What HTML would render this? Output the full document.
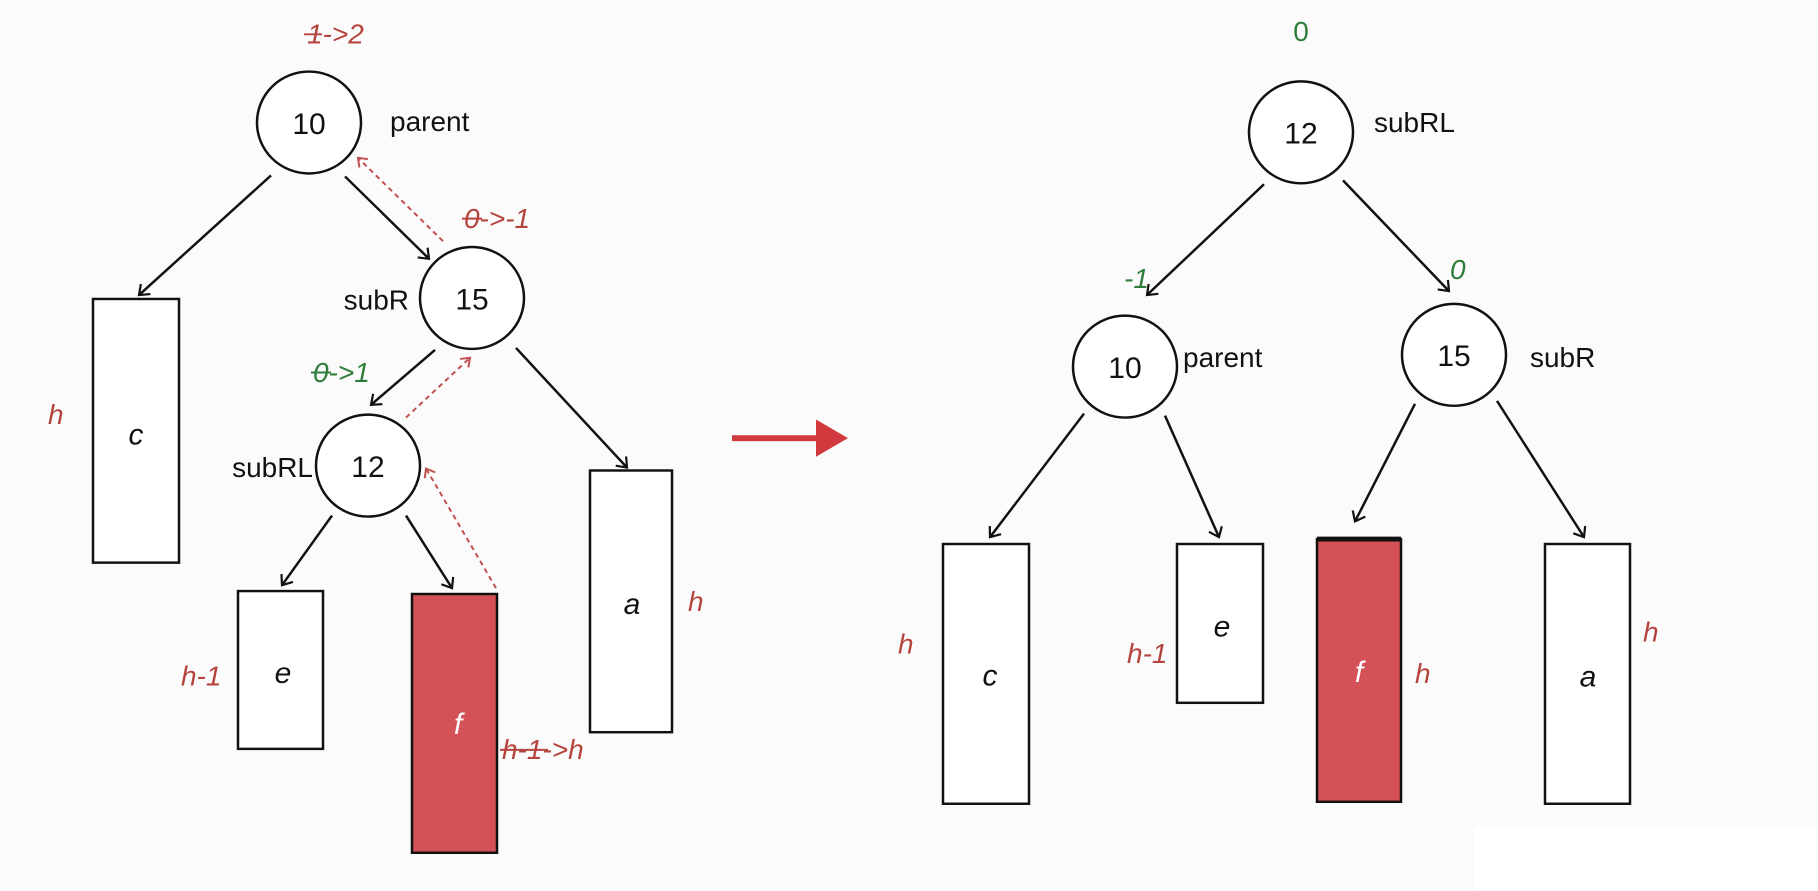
<!DOCTYPE html>
<html><head><meta charset="utf-8"><style>
html,body{margin:0;padding:0;background:#fbfbfb;}
svg{display:block}
text{font-family:"Liberation Sans","DejaVu Sans",sans-serif;}
</style></head><body>
<svg width="1818" height="891" viewBox="0 0 1818 909" preserveAspectRatio="none" xmlns="http://www.w3.org/2000/svg">
<defs>
<marker id="ab" markerWidth="16" markerHeight="16" refX="10" refY="8" orient="auto" markerUnits="userSpaceOnUse">
<path d="M1,1 L10,8 L1,15" fill="none" stroke="#111" stroke-width="2.2"/></marker>
<marker id="ar" markerWidth="14" markerHeight="14" refX="9" refY="7" orient="auto" markerUnits="userSpaceOnUse">
<path d="M1,1 L9,7 L1,13" fill="none" stroke="#c0504d" stroke-width="2"/></marker>
</defs>
<rect x="1474" y="843" width="344" height="66" fill="#ffffff"/>
<g stroke="#111" stroke-width="2.5" fill="none">
<line x1="271" y1="179" x2="139" y2="301" marker-end="url(#ab)"/>
<line x1="345" y1="180" x2="429" y2="264" marker-end="url(#ab)"/>
<line x1="435" y1="357" x2="371" y2="413" marker-end="url(#ab)"/>
<line x1="516" y1="355" x2="627" y2="477" marker-end="url(#ab)"/>
<line x1="332" y1="526" x2="282" y2="597" marker-end="url(#ab)"/>
<line x1="406" y1="526" x2="452" y2="600" marker-end="url(#ab)"/>
<line x1="1264" y1="188" x2="1147" y2="301" marker-end="url(#ab)"/>
<line x1="1343" y1="184" x2="1449" y2="297" marker-end="url(#ab)"/>
<line x1="1084" y1="422" x2="990" y2="548" marker-end="url(#ab)"/>
<line x1="1165" y1="424" x2="1219" y2="548" marker-end="url(#ab)"/>
<line x1="1415" y1="412" x2="1355" y2="532" marker-end="url(#ab)"/>
<line x1="1497" y1="409" x2="1584" y2="548" marker-end="url(#ab)"/>
</g>
<g stroke="#c0504d" stroke-width="2" stroke-dasharray="5,4" fill="none">
<line x1="443" y1="246" x2="358" y2="161" marker-end="url(#ar)"/>
<line x1="406" y1="426" x2="470" y2="365" marker-end="url(#ar)"/>
<line x1="496" y1="600" x2="426" y2="478" marker-end="url(#ar)"/>
</g>
<g stroke="#111" stroke-width="2.5" fill="#fff">
<circle cx="309" cy="125" r="52"/>
<circle cx="472" cy="304" r="52"/>
<circle cx="368" cy="475" r="52"/>
<circle cx="1301" cy="135" r="52"/>
<circle cx="1125" cy="374" r="52"/>
<circle cx="1454" cy="362" r="52"/>
<rect x="93" y="305" width="86" height="269"/>
<rect x="238" y="603" width="85" height="161"/>
<rect x="590" y="480" width="82" height="267"/>
<rect x="943" y="555" width="86" height="265"/>
<rect x="1177" y="555" width="86" height="162"/>
<rect x="1545" y="555" width="85" height="265"/>
</g>
<rect x="412" y="606" width="85" height="264" fill="#d45257" stroke="#111" stroke-width="2.5"/>
<rect x="1317" y="550" width="84" height="268" fill="#d45257" stroke="#111" stroke-width="2.5"/>
<line x1="1317" y1="550" x2="1401" y2="550" stroke="#111" stroke-width="5"/>
<line x1="732" y1="447" x2="820" y2="447" stroke="#d0393e" stroke-width="6"/>
<polygon points="816,428 848,447 816,466" fill="#d0393e"/>
<g font-size="30" fill="#111" text-anchor="middle" dominant-baseline="central">
<text x="309" y="127">10</text>
<text x="472" y="306">15</text>
<text x="368" y="477">12</text>
<text x="1301" y="137">12</text>
<text x="1125" y="376">10</text>
<text x="1454" y="364">15</text>
</g>
<g font-size="28" fill="#111" dominant-baseline="central">
<text x="390" y="124">parent</text>
<text x="409" y="306" text-anchor="end">subR</text>
<text x="313" y="477" text-anchor="end">subRL</text>
<text x="1374" y="125">subRL</text>
<text x="1183" y="365">parent</text>
<text x="1530" y="365">subR</text>
</g>
<g font-size="30" font-style="italic" text-anchor="middle" dominant-baseline="central">
<text x="136" y="444" fill="#111">c</text>
<text x="283" y="687" fill="#111">e</text>
<text x="458" y="739" fill="#fff">f</text>
<text x="632" y="617" fill="#111">a</text>
<text x="990" y="690" fill="#111">c</text>
<text x="1222" y="640" fill="#111">e</text>
<text x="1359" y="686" fill="#fff">f</text>
<text x="1588" y="691" fill="#111">a</text>
</g>
<g font-size="28" font-style="italic" fill="#b5443f" dominant-baseline="central">
<text x="307" y="35">1-&gt;2</text>
<text x="464" y="223">0-&gt;-1</text>
<text x="48" y="423">h</text>
<text x="181" y="690">h-1</text>
<text x="502" y="765">h-1-&gt;h</text>
<text x="688" y="614">h</text>
<text x="898" y="657">h</text>
<text x="1127" y="667">h-1</text>
<text x="1415" y="687">h</text>
<text x="1643" y="645">h</text>
</g>
<g stroke="#b5443f" stroke-width="2">
<line x1="304" y1="35" x2="322" y2="35"/>
<line x1="462" y1="223" x2="482" y2="223"/>
<line x1="500" y1="765" x2="548" y2="765"/>
</g>
<g font-size="28" font-style="italic" fill="#2e7d3a" dominant-baseline="central">
<text x="313" y="380">0-&gt;1</text>
<text x="1124" y="284">-1</text>
<text x="1450" y="275">0</text>
</g>
<line x1="311" y1="380" x2="331" y2="380" stroke="#2e7d3a" stroke-width="2"/>
<text x="1301" y="32" font-size="28" fill="#2e7d3a" text-anchor="middle" dominant-baseline="central">0</text>
</svg>
</body></html>
